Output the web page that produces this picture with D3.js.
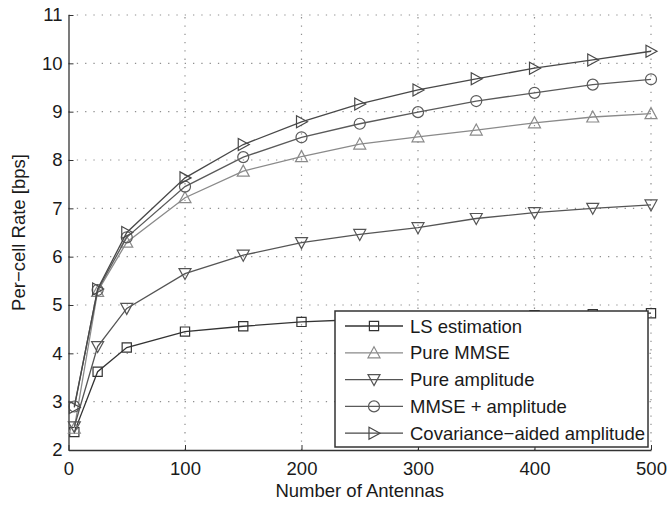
<!DOCTYPE html>
<html>
<head>
<meta charset="utf-8">
<script src="https://cdn.jsdelivr.net/npm/d3@7/dist/d3.min.js"></script>
<style>
  html, body { margin: 0; padding: 0; background: #fff; }
  svg { display: block; font-family: "Liberation Sans", Arial, sans-serif; }
</style>
</head>
<body>
<svg id="chart" width="670" height="506"></svg>
<script>
const antennas = [5, 25, 50, 100, 150, 200, 250, 300, 350, 400, 450, 500];
const lsEstimation = [2.37, 3.62, 4.12, 4.45, 4.56, 4.65, 4.70, 4.73, 4.76, 4.79, 4.81, 4.83];
const pureMMSE = [2.45, 5.28, 6.30, 7.22, 7.77, 8.07, 8.33, 8.48, 8.62, 8.77, 8.89, 8.96];
const pureAmplitude = [2.48, 4.14, 4.93, 5.65, 6.03, 6.29, 6.46, 6.60, 6.79, 6.91, 7.00, 7.07];
const mmsePlusAmplitude = [2.90, 5.31, 6.40, 7.45, 8.06, 8.47, 8.75, 8.99, 9.22, 9.39, 9.56, 9.67];
const covarianceAided = [2.88, 5.33, 6.50, 7.63, 8.32, 8.79, 9.16, 9.45, 9.68, 9.90, 10.07, 10.25];
const xTicks = [0, 100, 200, 300, 400, 500];
const yTicks = [2, 3, 4, 5, 6, 7, 8, 9, 10, 11];
const seriesNames = ["LS estimation", "Pure MMSE", "Pure amplitude", "MMSE + amplitude", "Covariance\u2212aided amplitude"];
const seriesValues = [lsEstimation, pureMMSE, pureAmplitude, mmsePlusAmplitude, covarianceAided];
const seriesMarkers = ["square", "triUp", "triDown", "circle", "triRight"];
const seriesColors = ["#333333", "#8a8a8a", "#555555", "#5a5a5a", "#484848"];

const svg = d3.select("#chart");
const L = 68.5, R = 651, T = 15, B = 450;
const x = d3.scaleLinear().domain([0, 500]).range([L, R]);
const y = d3.scaleLinear().domain([2, 11]).range([B, T]);
const textColor = "#1a1a1a";
const fontSize = 18.5;

// grid
const grid = svg.append("g");
grid.selectAll("line.gx").data(xTicks.filter(d => d > 0)).enter().append("line")
  .attr("x1", d => x(d)).attr("x2", d => x(d)).attr("y1", B).attr("y2", T)
  .attr("stroke", "#8f8f8f").attr("stroke-width", 1.2).attr("stroke-dasharray", "1.3,7");
grid.selectAll("line.gy").data(yTicks.filter(d => d > 2)).enter().append("line")
  .attr("x1", L).attr("x2", R).attr("y1", d => y(d)).attr("y2", d => y(d))
  .attr("stroke", "#8f8f8f").attr("stroke-width", 1.2).attr("stroke-dasharray", "1.3,7");

// axes
const xAxis = d3.axisBottom(x).tickValues(xTicks).tickSizeInner(-5).tickSizeOuter(0).tickPadding(12);
const yAxis = d3.axisLeft(y).tickValues(yTicks).tickSizeInner(-5).tickSizeOuter(0).tickPadding(6);
const gx = svg.append("g").attr("transform", `translate(0,${B})`).call(xAxis);
const gy = svg.append("g").attr("transform", `translate(${L},0)`).call(yAxis);
[gx, gy].forEach(g => {
  g.select(".domain").attr("stroke", "#333").attr("stroke-width", 1.3);
  g.selectAll(".tick line").attr("stroke", "#333").attr("stroke-width", 1);
  g.selectAll(".tick text").attr("fill", textColor).attr("font-size", fontSize)
    .attr("font-family", "Liberation Sans, Arial, sans-serif");
});

// axis labels
svg.append("text").attr("x", (L + R) / 2).attr("y", 497).attr("text-anchor", "middle")
  .attr("font-size", fontSize).attr("fill", textColor).text("Number of Antennas");
svg.append("text").attr("transform", `translate(25,${(T + B) / 2}) rotate(-90)`)
  .attr("text-anchor", "middle").attr("font-size", fontSize).attr("fill", textColor)
  .text("Per\u2212cell Rate [bps]");

function markerPath(type, cx, cy) {
  const p = d3.path();
  if (type === "square") {
    const s = 4.6; p.rect(cx - s, cy - s, 2 * s, 2 * s);
  } else if (type === "circle") {
    p.moveTo(cx + 5.5, cy); p.arc(cx, cy, 5.5, 0, 2 * Math.PI);
  } else if (type === "triUp") {
    p.moveTo(cx, cy - 6); p.lineTo(cx + 6, cy + 5); p.lineTo(cx - 6, cy + 5); p.closePath();
  } else if (type === "triDown") {
    p.moveTo(cx, cy + 6); p.lineTo(cx + 6, cy - 5); p.lineTo(cx - 6, cy - 5); p.closePath();
  } else if (type === "triRight") {
    p.moveTo(cx + 6, cy); p.lineTo(cx - 5, cy - 6); p.lineTo(cx - 5, cy + 6); p.closePath();
  }
  return p.toString();
}

// series
const line = d3.line().x(d => x(d[0])).y(d => y(d[1]));
seriesValues.forEach((vals, i) => {
  const pts = antennas.map((a, j) => [a, vals[j]]);
  const g = svg.append("g");
  g.append("path").attr("d", line(pts)).attr("fill", "none")
    .attr("stroke", seriesColors[i]).attr("stroke-width", 1.3);
  g.selectAll("path.m").data(pts).enter().append("path")
    .attr("d", d => markerPath(seriesMarkers[i], x(d[0]), y(d[1])))
    .attr("fill", "none").attr("stroke", seriesColors[i]).attr("stroke-width", 1.2);
});

// legend
const lg = svg.append("g");
lg.append("rect").attr("x", 335).attr("y", 311).attr("width", 313).attr("height", 136)
  .attr("fill", "#fff").attr("stroke", "#333").attr("stroke-width", 1.5);
seriesNames.forEach((name, i) => {
  const ry = 326 + i * 26.8;
  lg.append("line").attr("x1", 345).attr("x2", 403).attr("y1", ry).attr("y2", ry)
    .attr("stroke", seriesColors[i]).attr("stroke-width", 1.3);
  lg.append("path").attr("d", markerPath(seriesMarkers[i], 374, ry))
    .attr("fill", "none").attr("stroke", seriesColors[i]).attr("stroke-width", 1.2);
  lg.append("text").attr("x", 410).attr("y", ry + 6.5).attr("font-size", fontSize)
    .attr("fill", textColor).text(name);
});
</script>
</body>
</html>
